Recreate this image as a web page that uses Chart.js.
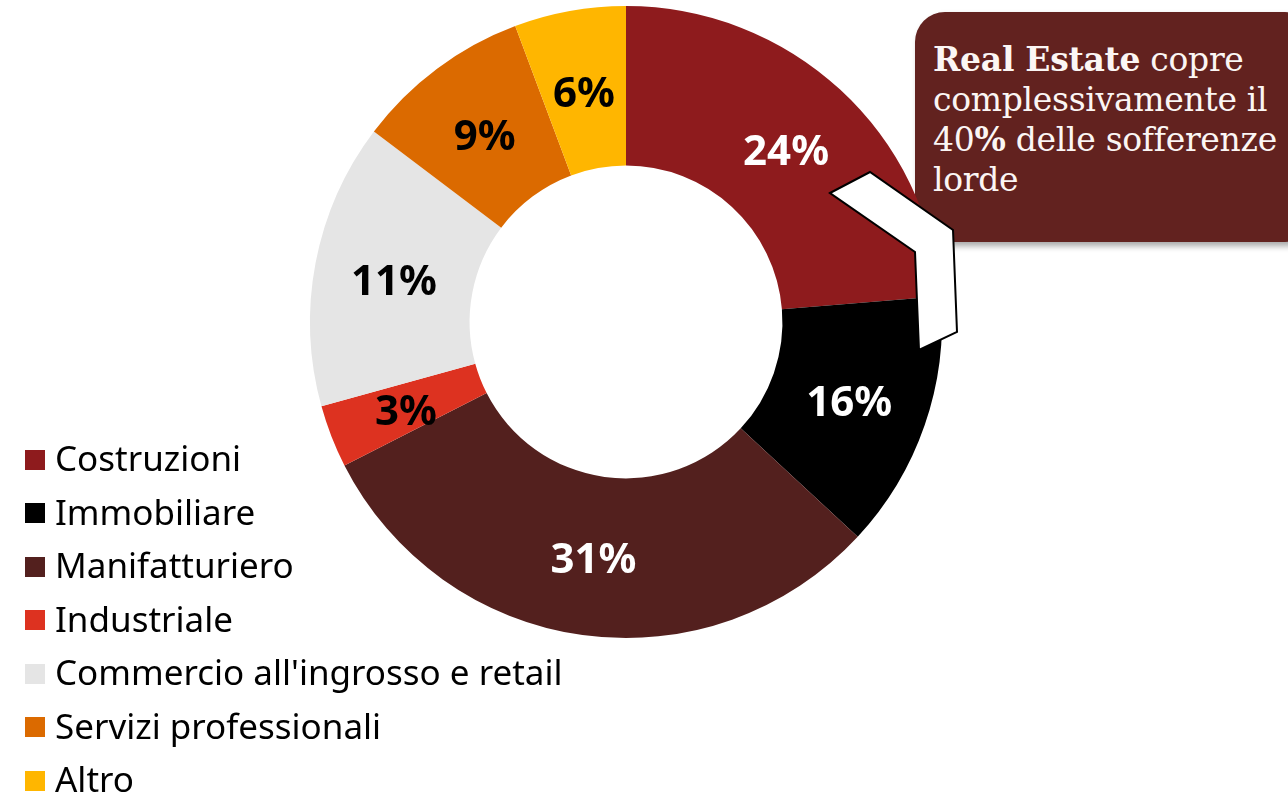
<!DOCTYPE html>
<html>
<head>
<meta charset="utf-8">
<script src="https://cdn.jsdelivr.net/npm/chart.js"></script>
<style>
  body { margin: 0; background: #fff; width: 1288px; height: 796px; overflow: hidden; position: relative; }
  #callout {
    position: absolute; left: 915px; top: 12px; width: 400px; height: 230px;
    background: #62221f; border-radius: 30px; z-index: 0;
    box-shadow: 3px 4px 6px rgba(0,0,0,0.35);
    color: #fbf6f4; font-family: "DejaVu Serif", serif; font-size: 33px; line-height: 40px;
    box-sizing: border-box; padding: 28px 0 0 18px; white-space: nowrap; letter-spacing: -0.3px;
  }
  #chart { position: absolute; left: 0; top: 0; z-index: 1; }
  #legend { position: absolute; left: 25px; top: 431px; z-index: 2; font-family: "Noto Sans", sans-serif; font-size: 35px; color: #000; }
  .row { height: 53.5px; line-height: 53.5px; white-space: nowrap; }
  .sw { display: inline-block; width: 20px; height: 20px; margin-right: 10px; vertical-align: middle; position: relative; top: -2px; }
</style>
</head>
<body>
<div id="callout"><b>Real Estate</b> copre<br>complessivamente il<br>40<b>%</b> delle sofferenze<br>lorde</div>
<canvas id="chart" width="1288" height="796"></canvas>
<div id="legend"></div>
<script>
  // sectors, clockwise from 12 o'clock
  let sectors = ["Costruzioni", "Immobiliare", "Manifatturiero", "Industriale",
    "Commercio all'ingrosso e retail", "Servizi professionali", "Altro"];
  // slice sizes as drawn
  let shares = [23.7, 13.2, 30.6, 3.2, 14.6, 9.0, 5.7];
  // labels printed on the slices
  let shareLabels = ["24%", "16%", "31%", "3%", "11%", "9%", "6%"];
  let sectorColors = ["#8e1b1d", "#000000", "#53201e", "#dd3220", "#e5e5e5", "#db6a00", "#ffb600"];
  let labelColors = ["#ffffff", "#ffffff", "#ffffff", "#000000", "#000000", "#000000", "#000000"];

  // legend
  let legendBox = document.getElementById("legend");
  sectors.forEach(function (name, i) {
    let row = document.createElement("div");
    row.className = "row";
    row.innerHTML = '<span class="sw" style="background:' + sectorColors[i] + '"></span>' + name;
    legendBox.appendChild(row);
  });

  // percentage text in the middle of each slice
  const sliceLabels = {
    id: "sliceLabels",
    afterDatasetsDraw(chart) {
      let ctx = chart.ctx;
      let arcs = chart.getDatasetMeta(0).data;
      ctx.save();
      ctx.font = "bold 42px 'Noto Sans', sans-serif";
      ctx.textAlign = "center";
      ctx.textBaseline = "middle";
      arcs.forEach(function (arc, i) {
        let p = arc.tooltipPosition();
        ctx.fillStyle = labelColors[i];
        ctx.fillText(shareLabels[i], p.x, p.y + 5);
      });
      ctx.restore();
    },
  };

  // white pointer from the callout into the chart
  const pointer = {
    id: "pointer",
    afterDraw(chart) {
      let ctx = chart.ctx;
      let pts = [[830, 193], [870, 172], [953, 230], [957, 332], [919, 350], [915, 252]];
      ctx.save();
      ctx.beginPath();
      pts.forEach(function (p, i) {
        if (i === 0) ctx.moveTo(p[0], p[1]);
        else ctx.lineTo(p[0], p[1]);
      });
      ctx.closePath();
      ctx.fillStyle = "#ffffff";
      ctx.fill();
      ctx.lineWidth = 2;
      ctx.strokeStyle = "#000000";
      ctx.stroke();
      ctx.restore();
    },
  };

  let ctx = document.getElementById("chart").getContext("2d");
  new Chart(ctx, {
    type: "doughnut",
    data: {
      labels: sectors,
      datasets: [{
        data: shares,
        backgroundColor: sectorColors,
        borderWidth: 0,
      }],
    },
    options: {
      responsive: false,
      animation: false,
      cutout: "49.5%",
      layout: { padding: { left: 310, top: 6, right: 346, bottom: 158 } },
      plugins: {
        legend: { display: false },
        tooltip: { enabled: false },
      },
    },
    plugins: [sliceLabels, pointer],
  });
</script>
</body>
</html>
